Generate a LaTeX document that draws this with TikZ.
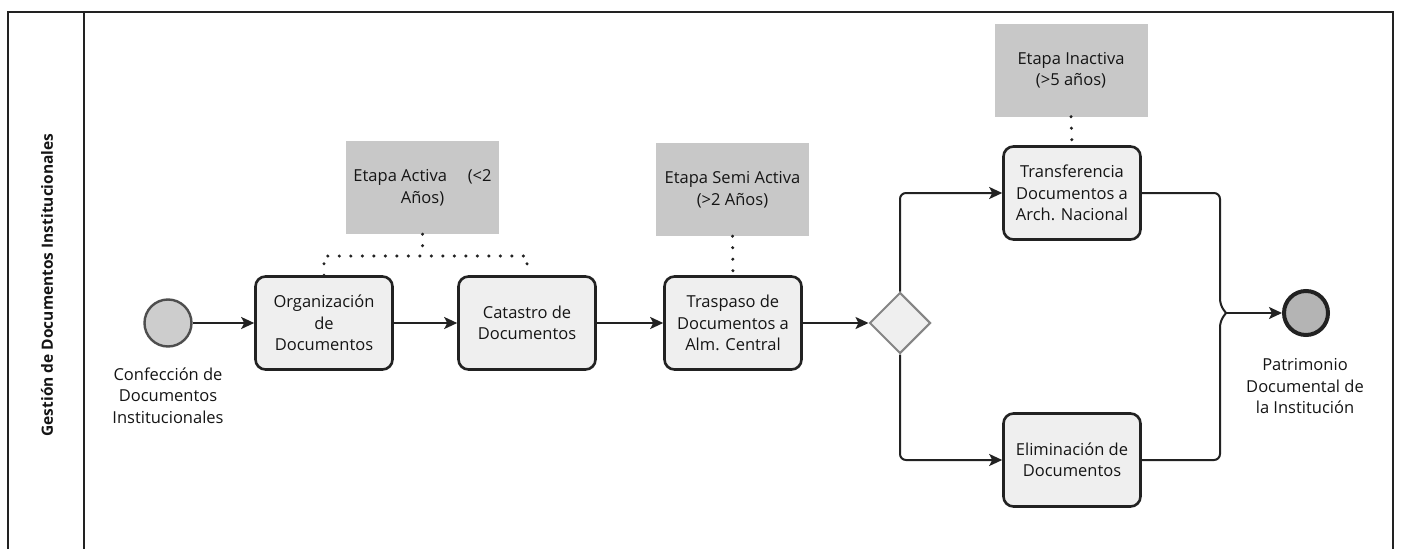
\documentclass[tikz,border=0pt]{standalone}
\usepackage{fontspec}
\setmainfont{Open Sans}
\usetikzlibrary{arrows.meta,shapes.geometric}
\definecolor{taskfill}{HTML}{EFEFEF}
\definecolor{notefill}{HTML}{C8C8C8}
\definecolor{startfill}{HTML}{CDCDCD}
\definecolor{endfill}{HTML}{B4B4B4}
\definecolor{ink}{HTML}{222222}
\definecolor{textink}{HTML}{151515}
\tikzset{
  lbl/.style={font=\fontsize{16.5}{21.5}\selectfont, text=textink, align=center},
  task/.style={lbl, draw=ink, line width=2.6pt, fill=taskfill, rounded corners=10pt,
    minimum width=137pt, minimum height=93pt, inner sep=2pt},
  note/.style={lbl, fill=notefill, minimum width=153pt, minimum height=93pt, inner sep=2pt},
  startev/.style={circle, draw=ink!80, line width=2.4pt, fill=startfill, minimum size=47pt, inner sep=0pt},
  endev/.style={circle, draw=ink, line width=4pt, fill=endfill, minimum size=44pt, inner sep=0pt},
  gate/.style={diamond, draw=ink!55, line width=2pt, fill=taskfill, minimum width=61pt, minimum height=61pt, inner sep=0pt, aspect=1},
  flow/.style={draw=ink, line width=2pt, -{Stealth[length=13pt,width=12pt,inset=3pt]}},
  line/.style={draw=ink, line width=2pt},
  assoc/.style={draw=ink, line width=3.4pt, line cap=round, dash pattern=on 0pt off 11.5pt},
  frame/.style={draw=ink, line width=2pt}
}
\begin{document}
\begin{tikzpicture}[x=1pt,y=-1pt]
\useasboundingbox (0,0) rectangle (1401,549);
\fill[white] (0,0) rectangle (1401,549);

% pool and lane
\draw[frame] (8,549) -- (8,12) -- (1393,12) -- (1393,549);
\draw[frame] (84,12) -- (84,549);
\node[rotate=90, font=\fontsize{15.5}{20}\selectfont\bfseries, text=textink] (lane) at (47,285) {Gestión de Documentos Institucionales};

% events
\node[startev] (start) at (168,323) {};
\node[lbl, anchor=north] (startlbl) at (168,364) {Confección de\\Documentos\\Institucionales};
\node[endev] (end) at (1306,313) {};
\node[lbl, anchor=north] (endlbl) at (1305,355) {Patrimonio\\Documental de\\la Institución};

% tasks
\node[task] (org) at (324,323) {Organización\\de\\Documentos};
\node[task] (cat) at (527,323) {Catastro de\\Documentos};
\node[task] (tra) at (733,323) {Traspaso de\\Documentos a\\Alm. Central};
\node[task] (tnac) at (1072,193) {Transferencia\\Documentos a\\Arch. Nacional};
\node[task] (eli) at (1072,460) {Eliminación de\\Documentos};

% gateway
\node[gate] (gw) at (900,323) {};

% annotations
\node[note] (nact) at (422.5,187.5) {Etapa Activa\quad\ (<2\\Años)};
\node[note] (nsemi) at (732.5,189.5) {Etapa Semi Activa\\(>2 Años)};
\node[note] (ninac) at (1071,70) {Etapa Inactiva\\(>5 años)};

% associations
\coordinate (jact) at (422.5,256);
\draw[assoc] (nact.south) -- (jact);
\draw[assoc] (org.north) |- (jact) -| (cat.north);
\draw[assoc] (nsemi.south) -- (tra.north);
\draw[assoc] (ninac.south) -- (tnac.north);

% sequence flows
\draw[flow] (start) -- (org);
\draw[flow] (org) -- (cat);
\draw[flow] (cat) -- (tra);
\draw[flow] (tra) -- (gw);
\draw[flow, rounded corners=6pt] (gw.north) |- (tnac.west);
\draw[flow, rounded corners=6pt] (gw.south) |- (eli.west);

% merge into end event
\coordinate (mt) at (1220,305);
\coordinate (mb) at (1220,321);
\coordinate (m) at (1226,313);
\draw[line, rounded corners=6pt] (tnac.east) -| (mt) -- (m);
\draw[line, rounded corners=6pt] (eli.east) -| (mb) -- (m);
\draw[flow] (m) -- (end);
\end{tikzpicture}
\end{document}
